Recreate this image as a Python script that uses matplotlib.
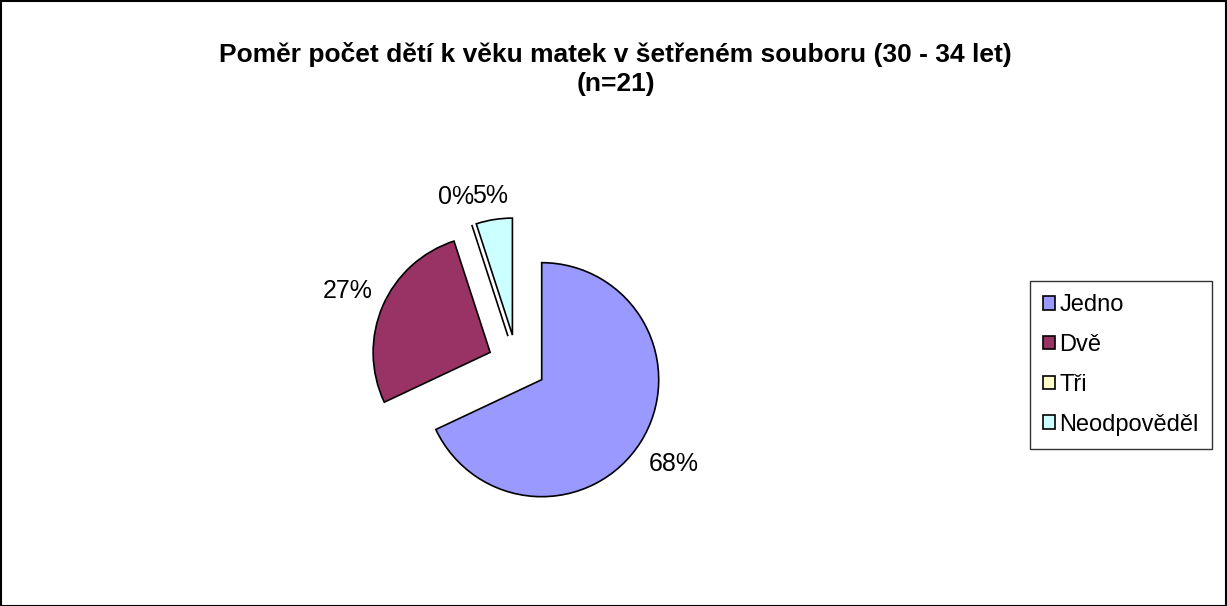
import matplotlib
matplotlib.use('Agg')
import numpy as np
import matplotlib.pyplot as plt
from matplotlib.patches import Rectangle

plt.rcParams['font.family'] = ['Liberation Sans', 'DejaVu Sans']

# data
categories = ['Jedno', 'Dvě', 'Tři', 'Neodpověděl']
shares = [68, 27, 0, 5]
colors = ['#9999FF', '#993366', '#FFFFCC', '#CCFFFF']
title = 'Poměr počet dětí k věku matek v šetřeném souboru (30 - 34 let)\n(n=21)'

# label distance from each (exploded) wedge centre, in radii, plus a small sideways nudge
label_dist = [1.34, 1.33, 1.25, 1.20]
label_dx = [0.0, 0.0, -0.06, 0.0]

W, H = 1227, 606
fig = plt.figure(figsize=(W / 100, H / 100), dpi=100)
fig.patch.set_facecolor('white')

# pie axes: square box centred on the pie centre
r_px = 117
box = 500
cx, cy = 517, 364
ax = fig.add_axes([(cx - box / 2) / W, (H - cy - box / 2) / H, box / W, box / H])

wedges, texts, autotexts = ax.pie(
    shares, colors=colors, startangle=90, counterclock=False,
    explode=[0.25] * len(shares), radius=1,
    autopct='%1.0f%%', pctdistance=1.3,
    wedgeprops=dict(edgecolor='black', linewidth=1.2),
    textprops=dict(fontsize=18, color='black'))
for w, t, d, dx in zip(wedges, autotexts, label_dist, label_dx):
    mid = np.deg2rad((w.theta1 + w.theta2) / 2)
    x0, y0 = w.center
    t.set_position((x0 + d * np.cos(mid) + dx, y0 + d * np.sin(mid)))
    t.set_clip_on(False)

lim = box / 2 / r_px
ax.set_xlim(-lim, lim)
ax.set_ylim(-lim, lim)
ax.set_aspect('equal')
ax.axis('off')

fig.text(0.5 + 2 / W, 1 - 69 / H, title, ha='center', va='center', fontsize=19,
         fontweight='bold', linespacing=1.3)

leg = fig.legend(wedges, categories, loc='center left',
                 bbox_to_anchor=(1030 / W, (H - 365) / H),
                 frameon=True, fancybox=False, fontsize=17,
                 handlelength=0.5, handleheight=0.5, handletextpad=0.2,
                 labelspacing=0.75, borderpad=0.55, borderaxespad=0)
leg.get_frame().set_edgecolor('black')
leg.get_frame().set_linewidth(1)

# outer chart border
fig.patches.append(Rectangle((0.5 / W, 0), 1 - 2 / W, 1 - 1 / H, transform=fig.transFigure,
                             fill=False, edgecolor='black', linewidth=1.5))

fig.savefig('out.png', dpi=100)
